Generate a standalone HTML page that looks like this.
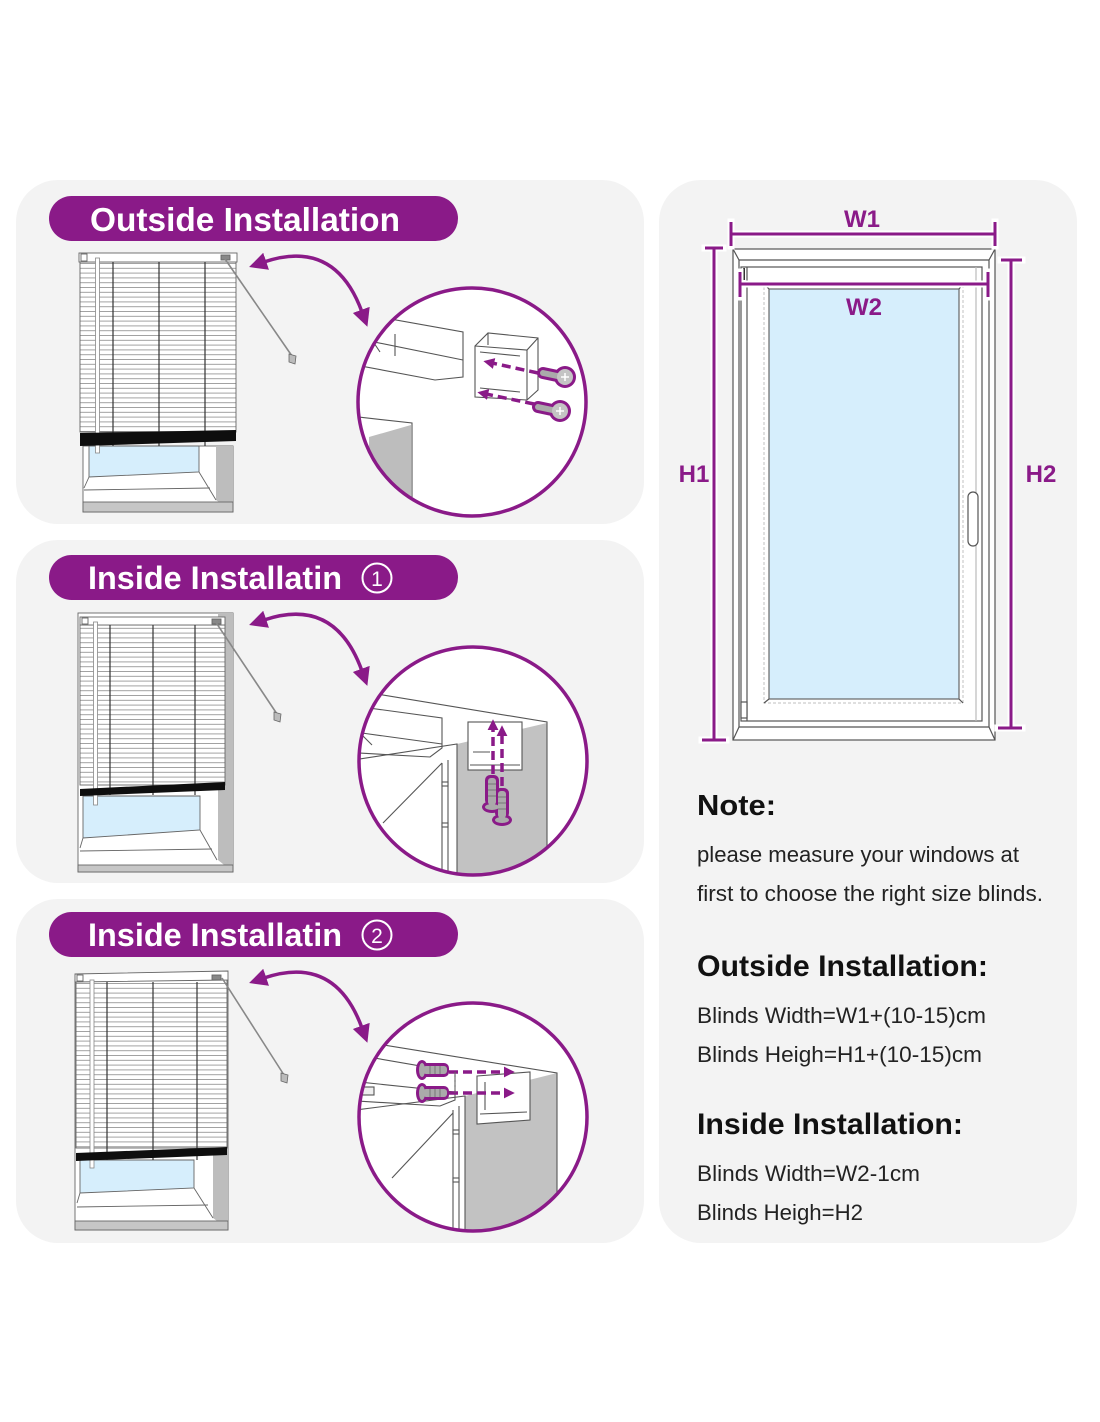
<!DOCTYPE html>
<html><head><meta charset="utf-8">
<style>
html,body{margin:0;padding:0;background:#fff;}
svg{display:block;}
</style></head><body>
<svg width="1100" height="1422" viewBox="0 0 1100 1422" xmlns="http://www.w3.org/2000/svg" font-family="'Liberation Sans', Arial, sans-serif">
<defs>
<pattern id="sl" width="20" height="4.8" patternUnits="userSpaceOnUse"><rect width="20" height="4.8" fill="#fff"/><rect y="3.9" width="20" height="0.8" fill="#8c8c8c"/></pattern>
<marker id="ah" viewBox="0 0 16 16" refX="2" refY="8" markerWidth="18" markerHeight="18" markerUnits="userSpaceOnUse" orient="auto-start-reverse"><path d="M0,0 L16,8 L0,16 z" fill="#8a1a88"/></marker>
<marker id="sh" viewBox="0 0 10 10" refX="2" refY="5" markerWidth="11" markerHeight="11" markerUnits="userSpaceOnUse" orient="auto"><path d="M0,0 L10,5 L0,10 z" fill="#8a1a88"/></marker>
<clipPath id="c1"><circle cx="472" cy="402" r="113"/></clipPath>
<clipPath id="c2"><circle cx="473" cy="761" r="113"/></clipPath>
<clipPath id="c3"><circle cx="473" cy="1117" r="113"/></clipPath>
</defs>

<!-- panels -->
<rect x="16" y="180" width="628" height="344" rx="42" fill="#f3f3f3"/>
<rect x="16" y="540" width="628" height="343" rx="42" fill="#f3f3f3"/>
<rect x="16" y="899" width="628" height="344" rx="42" fill="#f3f3f3"/>
<rect x="659" y="180" width="418" height="1063" rx="42" fill="#f3f3f3"/>

<!-- pills -->
<rect x="49" y="196" width="409" height="45" rx="22.5" fill="#8a1a88"/>
<text x="90" y="231" font-size="33" font-weight="bold" fill="#fff" textLength="310" lengthAdjust="spacingAndGlyphs">Outside Installation</text>

<rect x="49" y="555" width="409" height="45" rx="22.5" fill="#8a1a88"/>
<text x="88" y="589" font-size="32" font-weight="bold" fill="#fff" textLength="254" lengthAdjust="spacingAndGlyphs">Inside Installatin</text>
<circle cx="377" cy="578" r="14.5" fill="none" stroke="#fff" stroke-width="2"/>
<text x="377" y="586" font-size="21" fill="#fff" text-anchor="middle">1</text>

<rect x="49" y="912" width="409" height="45" rx="22.5" fill="#8a1a88"/>
<text x="88" y="946" font-size="32" font-weight="bold" fill="#fff" textLength="254" lengthAdjust="spacingAndGlyphs">Inside Installatin</text>
<circle cx="377" cy="935" r="14.5" fill="none" stroke="#fff" stroke-width="2"/>
<text x="377" y="943" font-size="21" fill="#fff" text-anchor="middle">2</text>

<!-- ============ BLIND 1 ============ -->
<g stroke="#666" stroke-width="0.9">
  <rect x="83" y="446" width="150" height="66" fill="#fff"/>
  <polygon points="216,446 233,446 233,512 216,500" fill="#bdbdbd" stroke="none"/>
  <polygon points="89,446 199,446 199,472 89,477" fill="#d6eefc"/>
  <line x1="89" y1="477" x2="84" y2="488"/>
  <line x1="199" y1="472" x2="216" y2="500"/>
  <line x1="84" y1="490" x2="210" y2="488"/>
  <rect x="83" y="502" width="150" height="10" fill="#c6c6c6"/>
  <rect x="80" y="262" width="156" height="170" fill="url(#sl)"/>
  <rect x="79" y="253" width="158" height="9" fill="#fff"/>
  <rect x="81" y="254" width="6" height="7" fill="#fff"/>
  <rect x="221" y="255" width="9" height="5" fill="#888"/>
</g>
<g stroke="#333" stroke-width="1.2">
  <line x1="113" y1="262" x2="113" y2="446"/>
  <line x1="159" y1="262" x2="159" y2="446"/>
  <line x1="205" y1="262" x2="205" y2="446"/>
</g>
<rect x="95.5" y="258" width="4" height="195" fill="#fff" stroke="#888" stroke-width="0.8"/>
<polygon points="80,433 236,430 236,441 80,446" fill="#0e0e0e"/>
<line x1="225" y1="259" x2="292" y2="356" stroke="#888" stroke-width="1.6"/>
<path d="M289,354 l7,2 l-1,8 l-6,-2 z" fill="#bbb" stroke="#666" stroke-width="0.8"/>

<!-- ============ BLIND 2 ============ -->
<g stroke="#666" stroke-width="0.9">
  <rect x="78" y="613" width="155" height="259" fill="#fff"/>
  <polygon points="218,613 233,613 233,872 218,860" fill="#bdbdbd" stroke="none"/>
  <polygon points="83,796 200,796 200,830 83,838" fill="#d6eefc"/>
  <line x1="83" y1="838" x2="80" y2="848"/>
  <line x1="200" y1="830" x2="217" y2="860"/>
  <line x1="80" y1="851" x2="212" y2="849"/>
  <rect x="78" y="865" width="155" height="7" fill="#c6c6c6"/>
  <rect x="80" y="625" width="145" height="160" fill="url(#sl)"/>
  <rect x="80" y="617" width="145" height="8" fill="#fff"/>
  <rect x="82" y="618" width="6" height="6" fill="#fff"/>
  <rect x="212" y="619" width="9" height="5" fill="#888"/>
</g>
<g stroke="#333" stroke-width="1.2">
  <line x1="110" y1="625" x2="110" y2="795"/>
  <line x1="153" y1="625" x2="153" y2="795"/>
  <line x1="195" y1="625" x2="195" y2="795"/>
</g>
<rect x="93.5" y="622" width="4" height="183" fill="#fff" stroke="#888" stroke-width="0.8"/>
<polygon points="80,789 225,782 225,790 80,796" fill="#0e0e0e"/>
<line x1="215" y1="621" x2="277" y2="714" stroke="#888" stroke-width="1.6"/>
<path d="M274,712 l7,2 l-1,8 l-6,-2 z" fill="#bbb" stroke="#666" stroke-width="0.8"/>

<!-- ============ BLIND 3 ============ -->
<g stroke="#666" stroke-width="0.9">
  <rect x="75" y="980" width="153" height="250" fill="#fff"/>
  <polygon points="213,1155 228,1155 228,1229 213,1218" fill="#bdbdbd" stroke="none"/>
  <polygon points="80,1160 194,1160 194,1188 80,1193" fill="#d6eefc"/>
  <line x1="80" y1="1193" x2="77" y2="1203"/>
  <line x1="194" y1="1188" x2="213" y2="1218"/>
  <line x1="77" y1="1207" x2="208" y2="1205"/>
  <rect x="75" y="1221" width="153" height="9" fill="#c6c6c6"/>
  <rect x="76" y="980" width="151" height="168" fill="url(#sl)"/>
  <polygon points="75,974 228,971 228,980 75,982" fill="#fff"/>
  <rect x="77" y="975" width="6" height="6" fill="#fff"/>
  <rect x="212" y="975" width="9" height="5" fill="#888"/>
</g>
<g stroke="#333" stroke-width="1.2">
  <line x1="107" y1="982" x2="107" y2="1160"/>
  <line x1="153" y1="982" x2="153" y2="1160"/>
  <line x1="197" y1="982" x2="197" y2="1160"/>
</g>
<rect x="90" y="980" width="4" height="188" fill="#fff" stroke="#888" stroke-width="0.8"/>
<polygon points="76,1153 227,1147 227,1155 76,1161" fill="#0e0e0e"/>
<line x1="222" y1="978" x2="284" y2="1075" stroke="#888" stroke-width="1.6"/>
<path d="M281,1073 l7,2 l-1,8 l-6,-2 z" fill="#bbb" stroke="#666" stroke-width="0.8"/>

<!-- curved arrows -->
<g fill="none" stroke="#8a1a88" stroke-width="3.5" marker-start="url(#ah)" marker-end="url(#ah)">
  <path d="M264,262 Q335,238 362,312"/>
  <path d="M264,620 Q335,596 362,671"/>
  <path d="M264,978 Q335,954 362,1028"/>
</g>

<!-- ============ CIRCLE 1 ============ -->
<circle cx="472" cy="402" r="114" fill="#fff"/>
<g clip-path="url(#c1)">
  <g stroke="#555" stroke-width="1.1" fill="#fff">
    <polygon points="340,310 463,332 463,377 435,380 340,362"/>
    <line x1="395" y1="334" x2="395" y2="356"/>
    <line x1="340" y1="335" x2="463" y2="360"/>
    <line x1="372" y1="340" x2="380" y2="352"/>
    <polyline points="340,415 412,423 412,530" fill="none"/>
  </g>
  <polygon points="369,437 411,425 411,530 369,530" fill="#bdbdbd"/>
  <g stroke="#555" stroke-width="1.1" fill="#fff">
    <polygon points="475,346 488,333 538,338 538,390 527,400 475,397"/>
    <polyline points="475,346 527,350 538,338" fill="none"/>
    <line x1="527" y1="350" x2="527" y2="400"/>
    <line x1="488" y1="333" x2="488" y2="345"/>
    <line x1="480" y1="352" x2="520" y2="356"/>
    <line x1="480" y1="388" x2="520" y2="392"/>
  </g>
  <g stroke="#8a1a88" stroke-width="3.5" fill="none" stroke-dasharray="9 5" marker-end="url(#sh)">
    <path d="M538,373 L492,363"/>
    <path d="M534,404 L486,394"/>
  </g>
  <g stroke="#8a1a88" stroke-linecap="round">
    <line x1="543" y1="373" x2="562" y2="377" stroke-width="12"/>
    <line x1="538" y1="407" x2="557" y2="411" stroke-width="12"/>
  </g>
  <circle cx="565" cy="377" r="11" fill="#8a1a88"/>
  <circle cx="560" cy="411" r="11" fill="#8a1a88"/>
  <g stroke="#aaa" stroke-linecap="round">
    <line x1="543" y1="373" x2="562" y2="377" stroke-width="6"/>
    <line x1="538" y1="407" x2="557" y2="411" stroke-width="6"/>
  </g>
  <circle cx="565" cy="377" r="8" fill="#c4c4c4"/>
  <circle cx="560" cy="411" r="8" fill="#c4c4c4"/>
  <path d="M561,377 h8 M565,373 v8 M556,411 h8 M560,407 v8" stroke="#fff" stroke-width="1.5"/>
</g>
<circle cx="472" cy="402" r="114" fill="none" stroke="#8a1a88" stroke-width="3.5"/>

<!-- ============ CIRCLE 2 ============ -->
<circle cx="473" cy="761" r="114" fill="#fff"/>
<g clip-path="url(#c2)">
  <polygon points="457,744 547,723 547,900 457,900" fill="#c2c2c2"/>
  <g stroke="#555" stroke-width="1.1" fill="none">
    <polyline points="340,688 547,722 547,900"/>
    <polygon points="340,704 442,718 442,748 430,757 340,752" fill="#fff"/>
    <line x1="340" y1="730" x2="442" y2="744"/>
    <line x1="362" y1="735" x2="372" y2="745"/>
    <polyline points="340,762 457,744 457,900"/>
    <line x1="383" y1="823" x2="442" y2="763"/>
    <line x1="442" y1="763" x2="442" y2="900"/>
    <line x1="448" y1="760" x2="448" y2="900"/>
    <rect x="442" y="782" width="6" height="4" fill="#fff"/>
    <rect x="442" y="823" width="6" height="4" fill="#fff"/>
    <rect x="468" y="722" width="54" height="48" fill="#fff"/>
    <line x1="473" y1="752" x2="490" y2="752"/>
    <line x1="470" y1="765" x2="520" y2="765"/>
  </g>
  <g stroke="#8a1a88" stroke-width="3.5" fill="none" stroke-dasharray="9 5" marker-end="url(#sh)">
    <path d="M493,774 L493,728"/>
    <path d="M502,786 L502,734"/>
  </g>
  <g fill="#8a1a88">
    <rect x="485" y="775" width="14" height="30" rx="5"/>
    <ellipse cx="492" cy="807" rx="10" ry="6"/>
    <rect x="495" y="788" width="14" height="30" rx="5"/>
    <ellipse cx="502" cy="820" rx="10" ry="6"/>
  </g>
  <g fill="#aaa">
    <rect x="488" y="778" width="8" height="27" rx="3"/>
    <ellipse cx="492" cy="807" rx="7" ry="3"/>
    <rect x="498" y="791" width="8" height="27" rx="3"/>
    <ellipse cx="502" cy="820" rx="7" ry="3"/>
  </g>
  <path d="M488,784 h8 M488,790 h8 M488,796 h8 M498,797 h8 M498,803 h8 M498,809 h8" stroke="#777" stroke-width="1"/>
</g>
<circle cx="473" cy="761" r="114" fill="none" stroke="#8a1a88" stroke-width="3.5"/>

<!-- ============ CIRCLE 3 ============ -->
<circle cx="473" cy="1117" r="114" fill="#fff"/>
<g clip-path="url(#c3)">
  <polygon points="465,1096 557,1073 557,1250 465,1250" fill="#c2c2c2"/>
  <g stroke="#555" stroke-width="1.1" fill="none">
    <polyline points="340,1038 557,1073 557,1250"/>
    <polygon points="340,1052 455,1072 455,1100 440,1106 340,1100" fill="#fff"/>
    <line x1="340" y1="1080" x2="455" y2="1092"/>
    <rect x="362" y="1087" width="12" height="8" fill="#eee"/>
    <polyline points="340,1112 465,1096 465,1250"/>
    <line x1="392" y1="1178" x2="453" y2="1113"/>
    <line x1="453" y1="1110" x2="453" y2="1250"/>
    <line x1="459" y1="1106" x2="459" y2="1250"/>
    <rect x="453" y="1130" width="6" height="4" fill="#fff"/>
    <rect x="453" y="1178" width="6" height="4" fill="#fff"/>
    <polygon points="477,1076 530,1072 530,1120 477,1124" fill="#fff"/>
    <line x1="480" y1="1114" x2="527" y2="1112"/>
    <line x1="485" y1="1082" x2="485" y2="1110"/>
  </g>
  <g stroke="#8a1a88" stroke-width="3.5" fill="none" stroke-dasharray="9 5">
    <path d="M449,1072 L506,1072" marker-end="url(#sh)"/>
    <path d="M449,1093 L506,1093" marker-end="url(#sh)"/>
  </g>
  <line x1="455" y1="1072" x2="455" y2="1093" stroke="#666" stroke-width="1" stroke-dasharray="3 2"/>
  <g fill="#8a1a88">
    <rect x="421" y="1063" width="28" height="14" rx="5"/>
    <ellipse cx="422" cy="1070" rx="6" ry="10"/>
    <rect x="421" y="1086" width="28" height="14" rx="5"/>
    <ellipse cx="422" cy="1093" rx="6" ry="10"/>
  </g>
  <g fill="#aaa">
    <rect x="423" y="1066" width="24" height="8" rx="3"/>
    <ellipse cx="422" cy="1070" rx="3" ry="7"/>
    <rect x="423" y="1089" width="24" height="8" rx="3"/>
    <ellipse cx="422" cy="1093" rx="3" ry="7"/>
  </g>
  <path d="M430,1066 v8 M435,1066 v8 M440,1066 v8 M430,1089 v8 M435,1089 v8 M440,1089 v8" stroke="#777" stroke-width="1"/>
</g>
<circle cx="473" cy="1117" r="114" fill="none" stroke="#8a1a88" stroke-width="3.5"/>

<!-- ============ WINDOW DIAGRAM ============ -->
<g stroke="#555" stroke-width="1.2" fill="#fff">
  <rect x="733" y="249" width="262" height="491"/>
  <line x1="733" y1="249" x2="739" y2="260"/>
  <line x1="995" y1="249" x2="989" y2="260"/>
  <line x1="739" y1="260" x2="989" y2="260"/>
  <line x1="739" y1="260" x2="739" y2="727"/>
  <line x1="989" y1="260" x2="989" y2="727"/>
  <rect x="741" y="267" width="241" height="454"/>
  <line x1="747" y1="267" x2="747" y2="721"/>
  <line x1="976" y1="267" x2="976" y2="721" stroke="#bbb"/>
  <line x1="739" y1="727" x2="989" y2="727"/>
  <line x1="733" y1="740" x2="739" y2="727"/>
  <line x1="995" y1="740" x2="989" y2="727"/>
  <rect x="764" y="284" width="199" height="419" stroke="#ccc" stroke-dasharray="3 2"/>
  <rect x="769" y="289" width="190" height="410" fill="#d6eefc" stroke="#666"/>
  <line x1="764" y1="284" x2="769" y2="289"/>
  <line x1="963" y1="284" x2="959" y2="289"/>
  <line x1="764" y1="703" x2="769" y2="699"/>
  <line x1="963" y1="703" x2="959" y2="699"/>
  <rect x="968" y="492" width="10" height="54" rx="5"/>
  <rect x="741" y="702" width="6" height="16"/>
  <line x1="744" y1="268" x2="744" y2="280" stroke="#333" stroke-width="2"/>
</g>

<!-- dimension lines -->
<g stroke="#fff" stroke-width="7" fill="none" stroke-linecap="square">
  <path d="M731,234 H995 M731,222 V246 M995,222 V246"/>
  <path d="M740,284 H988 M740,272 V297 M988,272 V297"/>
  <path d="M714,248 V740 M705,248 H723 M702,740 H726"/>
  <path d="M1011,260 V728 M1001,260 H1022 M998,728 H1022"/>
</g>
<g stroke="#8a1a88" stroke-width="3" fill="none">
  <path d="M731,234 H995 M731,222 V246 M995,222 V246"/>
  <path d="M740,284 H988 M740,272 V297 M988,272 V297"/>
  <path d="M714,248 V740 M705,248 H723 M702,740 H726"/>
  <path d="M1011,260 V728 M1001,260 H1022 M998,728 H1022"/>
</g>
<g font-size="24" font-weight="bold" fill="#8a1a88" text-anchor="middle">
  <text x="862" y="227">W1</text>
  <text x="864" y="315">W2</text>
  <text x="694" y="482">H1</text>
  <text x="1041" y="482">H2</text>
</g>

<!-- notes -->
<text x="697" y="815" font-size="29" font-weight="bold" fill="#111" textLength="79" lengthAdjust="spacingAndGlyphs">Note:</text>
<g font-size="22" fill="#222">
  <text x="697" y="862" textLength="322" lengthAdjust="spacingAndGlyphs">please measure your windows at</text>
  <text x="697" y="901" textLength="346" lengthAdjust="spacingAndGlyphs">first to choose the right size blinds.</text>
</g>
<text x="697" y="976" font-size="30" font-weight="bold" fill="#111" textLength="291" lengthAdjust="spacingAndGlyphs">Outside Installation:</text>
<g font-size="22" fill="#222">
  <text x="697" y="1023" textLength="289" lengthAdjust="spacingAndGlyphs">Blinds Width=W1+(10-15)cm</text>
  <text x="697" y="1062" textLength="285" lengthAdjust="spacingAndGlyphs">Blinds Heigh=H1+(10-15)cm</text>
</g>
<text x="697" y="1134" font-size="30" font-weight="bold" fill="#111" textLength="266" lengthAdjust="spacingAndGlyphs">Inside Installation:</text>
<g font-size="22" fill="#222">
  <text x="697" y="1181" textLength="223" lengthAdjust="spacingAndGlyphs">Blinds Width=W2-1cm</text>
  <text x="697" y="1220" textLength="166" lengthAdjust="spacingAndGlyphs">Blinds Heigh=H2</text>
</g>
</svg>
</body></html>
